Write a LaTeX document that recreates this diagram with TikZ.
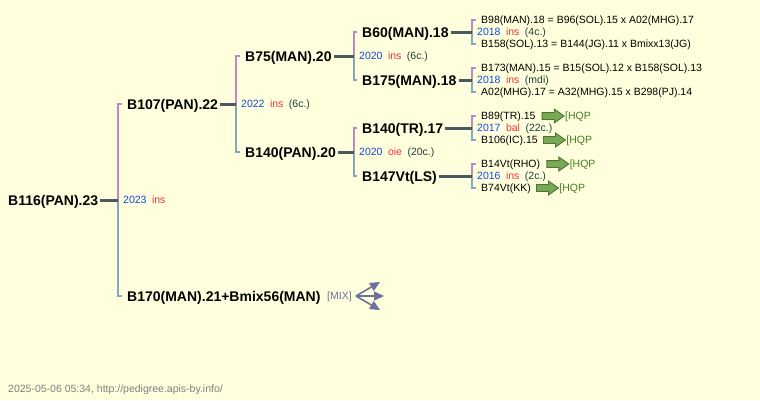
\documentclass[tikz,border=0pt]{standalone}
\usepackage{fontspec}
\setmainfont{Liberation Sans}
\usetikzlibrary{shapes.arrows,arrows.meta}
\definecolor{bg}{RGB}{255,255,222}
\definecolor{cn}{RGB}{74,88,96}
\definecolor{pk}{RGB}{192,136,192}
\definecolor{bl}{RGB}{130,168,190}
\definecolor{yr}{RGB}{20,70,220}
\definecolor{rd}{RGB}{240,50,60}
\definecolor{cc}{RGB}{30,64,54}
\definecolor{hq}{RGB}{64,128,32}
\definecolor{arf}{RGB}{122,168,90}
\definecolor{ard}{RGB}{70,120,40}
\definecolor{mixc}{RGB}{112,112,160}
\definecolor{foot}{RGB}{128,128,128}
\newcommand{\yl}[3]{{\color{yr}#1}\hspace{5.5pt}{\color{rd}#2}\hspace{5.5pt}{\color{cc}#3}}
\begin{document}
\begin{tikzpicture}[x=1pt,y=-1pt,
  nm/.style={font=\fontsize{14}{16}\selectfont\bfseries, text=black, anchor=west, inner sep=0pt, text height=10pt, text depth=0pt},
  sm/.style={font=\fontsize{10.5}{12}\selectfont, text=black, anchor=west, inner sep=0pt, text height=7.5pt, text depth=0pt},
  conn/.style={draw=cn, line width=3pt},
  pbar/.style={draw=pk, line width=2.2pt},
  bbar/.style={draw=bl, line width=2.2pt},
  hqparr/.style={single arrow, draw=ard, fill=arf, line width=0.9pt, minimum height=22pt, minimum width=13pt, inner sep=0pt, text height=6pt, text depth=0pt, single arrow head extend=3.5pt, single arrow tip angle=70, anchor=west},
  hqp/.style={sm, text=hq},
  mixarr/.style={draw=mixc, line width=1.6pt, -{Triangle[length=10pt,width=9pt]}}
]
\fill[bg] (0,0) rectangle (760,400);
\useasboundingbox (0,0) rectangle (760,400);

% names
\node[nm] (n1) at (8,200) {B116(PAN).23};
\node[nm] (n2) at (127,104) {B107(PAN).22};
\node[nm] (n3) at (127,296) {B170(MAN).21+Bmix56(MAN)};
\node[nm] (n4) at (245,56) {B75(MAN).20};
\node[nm] (n5) at (245,152) {B140(PAN).20};
\node[nm] (n6) at (362,32) {B60(MAN).18};
\node[nm] (n7) at (362,80) {B175(MAN).18};
\node[nm] (n8) at (362,128) {B140(TR).17};
\node[nm] (n9) at (362,176) {B147Vt(LS)};

\node[sm] (s1) at (481,20) {B98(MAN).18 = B96(SOL).15 x A02(MHG).17};
\node[sm] (s2) at (481,44) {B158(SOL).13 = B144(JG).11 x Bmixx13(JG)};
\node[sm] (s3) at (481,68) {B173(MAN).15 = B15(SOL).12 x B158(SOL).13};
\node[sm] (s4) at (481,92) {A02(MHG).17 = A32(MHG).15 x B298(PJ).14};
\node[sm] (s5) at (481,116) {B89(TR).15};
\node[sm] (s6) at (481,140) {B106(IC).15};
\node[sm] (s7) at (481,164) {B14Vt(RHO)};
\node[sm] (s8) at (481,188) {B74Vt(KK)};

% junctions
\coordinate (j1) at (118,200);
\coordinate (j2) at (236,104);
\coordinate (j3) at (354,56);
\coordinate (j4) at (354,152);
\coordinate (j5) at (472,32);
\coordinate (j6) at (472,80);
\coordinate (j7) at (472,128);
\coordinate (j8) at (472,176);

% year labels
\node[sm] (y1) at (123,200) {\yl{2023}{ins}{}};
\node[sm] (y2) at (241,104) {\yl{2022}{ins}{(6c.)}};
\node[sm] (y3) at (359,56) {\yl{2020}{ins}{(6c.)}};
\node[sm] (y4) at (359,152) {\yl{2020}{oie}{(20c.)}};
\node[sm] (y5) at (477,32) {\yl{2018}{ins}{(4c.)}};
\node[sm] (y6) at (477,80) {\yl{2018}{ins}{(mdi)}};
\node[sm] (y7) at (477,128) {\yl{2017}{bal}{(22c.)}};
\node[sm] (y8) at (477,176) {\yl{2016}{ins}{(2c.)}};

% bars
\foreach \j/\a/\b in {j1/n2/n3, j2/n4/n5, j3/n6/n7, j4/n8/n9, j5/s1/s2, j6/s3/s4, j7/s5/s6, j8/s7/s8}{
  \draw[pbar] (\j) |- ([xshift=-5pt]\a.west);
  \draw[bbar] (\j) |- ([xshift=-5pt]\b.west);
}

% connectors
\foreach \n/\j in {n1/j1, n2/j2, n4/j3, n5/j4, n6/j5, n7/j6, n8/j7, n9/j8}{
  \draw[conn] ([xshift=2pt]\n.east) -- (\j);
}

% HQP arrows
\foreach \s/\d in {s5/6pt, s6/5pt, s7/6pt, s8/5pt}{
  \node[hqparr] (a\s) at ([xshift=\d]\s.east) {};
  \node[hqp] (h\s) at (a\s.east) {[HQP};
}

% MIX
\node[sm, text=mixc] (mx) at (327,296) {[MIX]};
\coordinate (m1) at (380,282);
\coordinate (m2) at (384,296);
\coordinate (m3) at (380,310);
\foreach \m in {m1,m2,m3}{
  \draw[mixarr] ([xshift=4pt]mx.east) -- (\m);
}

% footer
\node[sm, text=foot] (ft) at (8,389) {2025-05-06 05:34, http://pedigree.apis-by.info/};
\end{tikzpicture}
\end{document}
